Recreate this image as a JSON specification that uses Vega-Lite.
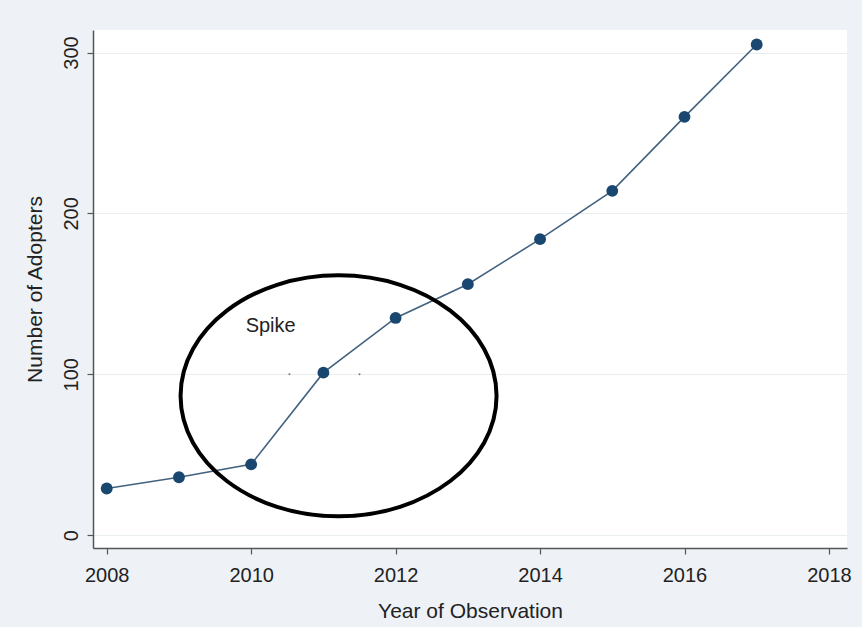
{
  "$schema": "https://vega.github.io/schema/vega-lite/v6.json",
  "width": 754,
  "height": 518,
  "autosize": "none",
  "padding": {"left": 93, "top": 30, "right": 15, "bottom": 79},
  "background": "#eef2f7",
  "config": {
    "view": {"fill": "white", "stroke": null},
    "font": "Liberation Sans",
    "axis": {
      "domainColor": "#555555",
      "domainWidth": 1.5,
      "tickColor": "#555555",
      "tickSize": 6,
      "tickWidth": 1.2,
      "labelFont": "Liberation Sans",
      "labelFontSize": 20,
      "labelColor": "#222222",
      "titleFont": "Liberation Sans",
      "titleFontSize": 21,
      "titleFontWeight": "normal",
      "titleColor": "#222222"
    }
  },
  "datasets": {
    "adopters": [
      {"year": 2008, "adopters": 29},
      {"year": 2009, "adopters": 36},
      {"year": 2010, "adopters": 44},
      {"year": 2011, "adopters": 101},
      {"year": 2012, "adopters": 135},
      {"year": 2013, "adopters": 156},
      {"year": 2014, "adopters": 184},
      {"year": 2015, "adopters": 214},
      {"year": 2016, "adopters": 260},
      {"year": 2017, "adopters": 305}
    ],
    "ellipse": [{"year": 2011.21, "adopters": 86.6}],
    "label": [{"year": 2010.27, "adopters": 130, "text": "Spike"}],
    "dots": [{"year": 2010.53, "adopters": 100}, {"year": 2011.5, "adopters": 100}]
  },
  "encoding": {
    "x": {
      "field": "year",
      "type": "quantitative",
      "scale": {"domain": [2007.81, 2018.25], "nice": false, "zero": false},
      "axis": {
        "title": "Year of Observation",
        "values": [2008, 2010, 2012, 2014, 2016, 2018],
        "format": "d",
        "grid": false,
        "labelPadding": 11,
        "titlePadding": 15
      }
    },
    "y": {
      "field": "adopters",
      "type": "quantitative",
      "scale": {"domain": [-8, 314], "nice": false, "zero": false},
      "axis": {
        "title": "Number of Adopters",
        "values": [0, 100, 200, 300],
        "grid": true,
        "gridColor": "#e8eef0",
        "gridWidth": 1,
        "labelAngle": -90,
        "labelAlign": "center",
        "labelBaseline": "bottom",
        "labelPadding": 6,
        "titlePadding": 16
      }
    }
  },
  "layer": [
    {
      "data": {"name": "adopters"},
      "mark": {"type": "line", "color": "#42627f", "strokeWidth": 1.6}
    },
    {
      "data": {"name": "adopters"},
      "mark": {"type": "point", "filled": true, "color": "#1a476f", "size": 140, "opacity": 1}
    },
    {
      "data": {"name": "ellipse"},
      "mark": {
        "type": "point",
        "filled": false,
        "shape": "M -1 0 A 1 0.7627 0 1 0 1 0 A 1 0.7627 0 1 0 -1 0 Z",
        "size": 99856,
        "stroke": "#000000",
        "strokeWidth": 4,
        "opacity": 1
      }
    },
    {
      "data": {"name": "dots"},
      "mark": {"type": "point", "filled": true, "color": "#777777", "size": 4, "opacity": 1}
    },
    {
      "data": {"name": "label"},
      "mark": {"type": "text", "fontSize": 20, "color": "#222222", "font": "Liberation Sans"},
      "encoding": {"text": {"field": "text"}}
    }
  ]
}
